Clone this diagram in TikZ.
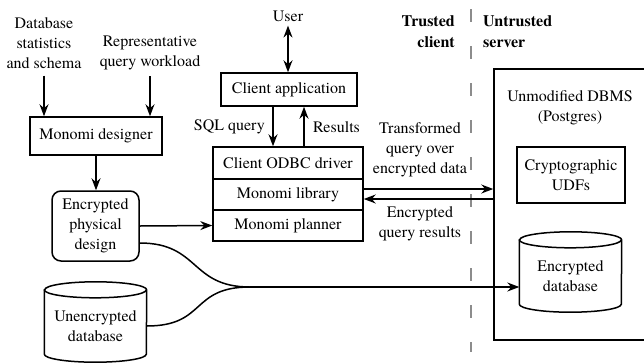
\documentclass[tikz,border=0pt]{standalone}
\usepackage{fontspec}
\setmainfont{texgyretermes}[Extension=.otf, UprightFont=*-regular, BoldFont=*-bold, ItalicFont=*-italic, BoldItalicFont=*-bolditalic]
\usetikzlibrary{arrows.meta}
\begin{document}
\begin{tikzpicture}[x=1pt,y=-1pt,
  every node/.style={font=\rmfamily\fontsize{16}{20}\selectfont, inner sep=0pt},
  box/.style={draw, line width=1.5pt},
  lbl/.style={align=center},
  conn/.style={line width=1.5pt},
  >={Stealth[length=12pt,width=9pt,inset=4pt]},
  cylbody/.style={minimum width=102pt, minimum height=72pt, align=center},
  divider/.style={draw=black!45, line width=1.6pt, dash pattern=on 13pt off 24pt},
]
\useasboundingbox (0,0) rectangle (644,362);
\clip (0,0) rectangle (644,362);

% left inputs
\node[lbl] (dbstats) at (44,43) {Database\\statistics\\and schema};
\node[lbl] (rqw) at (150,53) {Representative\\query workload};
\node[box, minimum width=132pt, minimum height=38pt] (designer) at (96,136) {Monomi designer};
\draw[conn,->] ([yshift=-7pt]dbstats.south) -- (dbstats.south |- designer.north);
\draw[conn,->] ([yshift=-6pt]rqw.south) -- (rqw.south |- designer.north);

\node[box, rounded corners=9pt, minimum width=87pt, minimum height=70pt, lbl] (epd) at (95.5,226) {Encrypted\\physical\\design};
\draw[conn,->] (designer.south) -- (designer.south |- epd.north);

% client side
\node (user) at (288,16) {User};
\node[box, minimum width=136pt, minimum height=33pt] (capp) at (289,89.5) {Client application};
\draw[conn,<->] ([yshift=-4pt]user.south) -- (user.south |- capp.north);

\node[box, minimum width=150pt, minimum height=32pt] (odbc) at (288,163) {Client ODBC driver};
\node[box, minimum width=150pt, minimum height=31pt] (lib) at (288,194.5) {Monomi library};
\node[box, minimum width=150pt, minimum height=31pt] (planner) at (288,225.5) {Monomi planner};

\draw[conn,->] ([xshift=-16pt]capp.south) -- ([xshift=-16pt]capp.south |- odbc.north);
\draw[conn,->] ([xshift=15pt]capp.south |- odbc.north) -- ([xshift=15pt]capp.south);
\node[anchor=east] (sqlq) at (265,127) {SQL query};
\node[anchor=west] (res) at (313,127) {Results};

\draw[conn,->] (epd.east) -- (planner.west);

% trust boundary
\coordinate (divtop) at (471,9);
\coordinate (divbot) at (471,352);
\draw[divider] (divtop) -- (divbot);
\node[align=right, anchor=east, font=\rmfamily\fontsize{16}{21}\selectfont\bfseries] (trusted) at (455,32) {Trusted\\client};
\node[align=left, anchor=west, font=\rmfamily\fontsize{16}{21}\selectfont\bfseries] (untrusted) at (483,32) {Untrusted\\server};

\node[lbl] (tq) at (420,150) {Transformed\\query over\\encrypted data};
\node[lbl] (eqr) at (420,224) {Encrypted\\query results};

% server
\node[box, minimum width=166pt, minimum height=271pt] (server) at (577,204.5) {};
\node[lbl] (dbms) at (570,107.5) {Unmodified DBMS\\(Postgres)};
\node[box, minimum width=108pt, minimum height=56pt, lbl] (udf) at (571,175) {Cryptographic\\UDFs};

\draw[conn,->] ([yshift=5.5pt]lib.east) -- ([yshift=5.5pt]lib.east -| server.west);
\draw[conn,->] ([yshift=-4.5pt]lib.east -| server.west) -- ([yshift=-4.5pt]lib.east);

% cylinders
\node[cylbody] (encdb) at (570.5,276) {Encrypted\\database};
\draw[box] (encdb.north west) -- ([yshift=8pt]encdb.south west)
  arc[start angle=180, end angle=360, x radius=51pt, y radius=8pt]
  -- (encdb.north east)
  arc[start angle=0, end angle=180, x radius=51pt, y radius=8pt] -- cycle;
\draw[box] (encdb.north west) arc[start angle=180, end angle=360, x radius=51pt, y radius=8pt];

\node[cylbody] (unencdb) at (95.5,326) {Unencrypted\\database};
\draw[box] (unencdb.north west) -- ([yshift=8pt]unencdb.south west)
  arc[start angle=180, end angle=360, x radius=51pt, y radius=8pt]
  -- (unencdb.north east)
  arc[start angle=0, end angle=180, x radius=51pt, y radius=8pt] -- cycle;
\draw[box] (unencdb.north west) arc[start angle=180, end angle=360, x radius=51pt, y radius=8pt];

% merge into encrypted database
\coordinate (merge) at (250,287);
\draw[conn] ([yshift=-17pt]epd.east) .. controls +(60,0) and +(-60,0) .. (merge);
\draw[conn] (unencdb.east) .. controls +(60,0) and +(-60,0) .. (merge);
\draw[conn,->] (merge) -- (merge -| encdb.west);
\end{tikzpicture}
\end{document}
